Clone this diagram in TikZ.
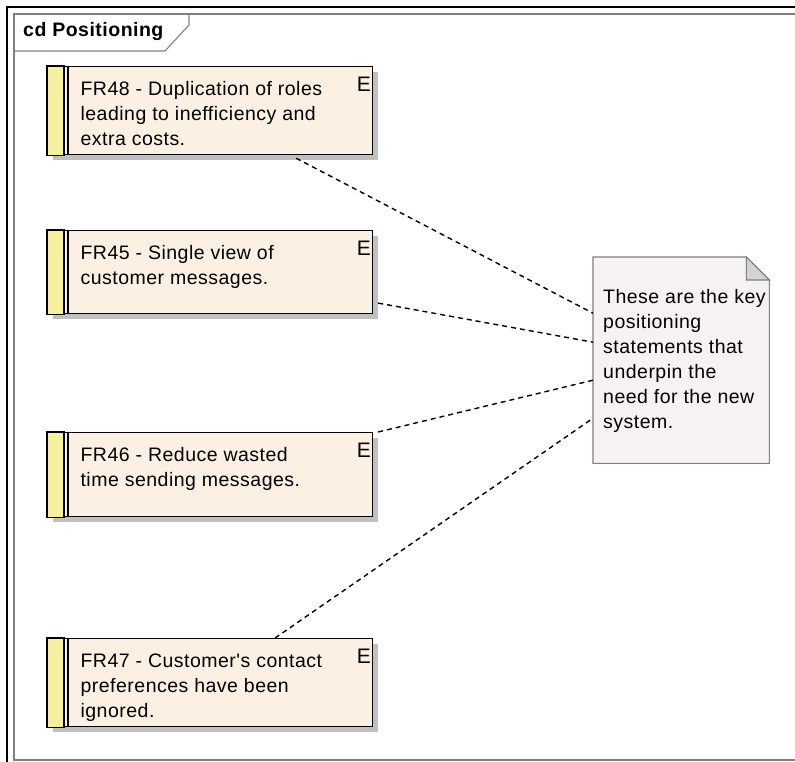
\documentclass[tikz,border=0pt]{standalone}
\usepackage{fontspec}
\setsansfont{Liberation Sans}[LetterSpace=2.5, Ligatures=TeXOff]
\usetikzlibrary{shadows,backgrounds}

\definecolor{reqfill}{HTML}{FBF0E1}
\definecolor{stripyellow}{HTML}{F5F0A0}
\definecolor{notefill}{HTML}{F5F1F5}
\definecolor{foldgray}{HTML}{D3D3D3}
\definecolor{framegray}{HTML}{7F7F7F}
\definecolor{shadowgray}{HTML}{C0C0C0}

\newcommand{\eafont}{\fontsize{19.5pt}{25pt}\selectfont}
% top aligned text inside a box of given height
\newcommand{\reqtext}[3]{\parbox[t][#1][t]{#2}{\leftskip=33pt\rule{0pt}{29pt}#3}}
\newcommand{\notetext}[1]{\parbox[t][206pt][t]{176pt}{\leftskip=10pt\rule{0pt}{46pt}#1}}

\begin{document}
\begin{tikzpicture}[
				x=1pt, y=-1pt,
				font=\sffamily,
				every node/.style={
						font=\sffamily\eafont,
					},
				reqbox/.style={
						draw=black, line width=1.2pt, fill=reqfill,
						inner sep=0pt, anchor=north west,
						drop shadow={shadow xshift=5pt, shadow yshift=-5pt, fill=shadowgray, opacity=1},
						label={[anchor=north east, inner sep=0pt, xshift=-2pt, yshift=-11pt, font=\sffamily\fontsize{21pt}{21pt}\selectfont]north east:E},
					},
				notebox/.style={
						inner sep=0pt, anchor=north west,
					},
				link/.style={
						dashed, line width=1.4pt, dash pattern=on 5pt off 4pt,
					},]
			\useasboundingbox (0,0) rectangle (795,762);
			\clip (0,0) rectangle (795,762);

			% frame
			\draw [line width=2pt] (7,770) -- (7,7) -- (800,7);
			\draw [framegray, line width=1.3pt] (14,14) rectangle (820,760);
			\draw [framegray, line width=1.1pt] (14,51) -- (165,51) -- (189,25) -- (189,14);
			\node [font=\sffamily\bfseries\eafont, anchor=base west, inner sep=0pt] (title) at (23,37) {cd Positioning};

			% requirements
			\node [reqbox] (fr48) at (47,66) {\reqtext{88pt}{325pt}{FR48 - Duplication of roles\\leading to inefficiency and\\extra costs.}};
			\node [reqbox] (fr45) at (47,230) {\reqtext{83pt}{325pt}{FR45 - Single view of\\customer messages.}};
			\node [reqbox] (fr46) at (47,432) {\reqtext{84pt}{325pt}{FR46 - Reduce wasted\\time sending messages.}};
			\node [reqbox] (fr47) at (47,638) {\reqtext{88pt}{325pt}{FR47 - Customer's contact\\preferences have been\\ignored.}};
			\foreach \r in {fr48,fr45,fr46,fr47} {
					\draw [line width=1.2pt, fill=stripyellow] (\r.north west) rectangle ([xshift=17pt]\r.south west);
					\draw [line width=1.2pt] ([xshift=21pt]\r.north west) -- ([xshift=21pt]\r.south west);
				}

			% note
			\node [notebox] (note) at (593,257) {\notetext{These are the key\\positioning\\statements that\\underpin the\\need for the new\\system.}};
			\begin{scope}[on background layer]
				\draw [framegray, line width=1.1pt, fill=notefill] (note.north west) -- ([xshift=-23pt]note.north east) -- ([yshift=-23pt]note.north east) -- (note.south east) -- (note.south west) -- cycle;
				\draw [framegray, line width=1.1pt, fill=foldgray] ([xshift=-23pt]note.north east) -- ([shift={(-23pt,-23pt)}]note.north east) -- ([yshift=-23pt]note.north east) -- cycle;
			\end{scope}

			% links
			\draw [link] ([shift={(86pt,-3pt)}]fr48.south) -- ([yshift=47pt]note.west);
			\draw [link] ([shift={(5pt,-31pt)}]fr45.east) -- ([yshift=18pt]note.west);
			\draw [link] ([xshift=5pt]fr46.north east) -- ([yshift=-20pt]note.west);
			\draw [link] ([xshift=65pt]fr47.north) -- ([yshift=-58pt]note.west);
		\end{tikzpicture}
\end{document}
